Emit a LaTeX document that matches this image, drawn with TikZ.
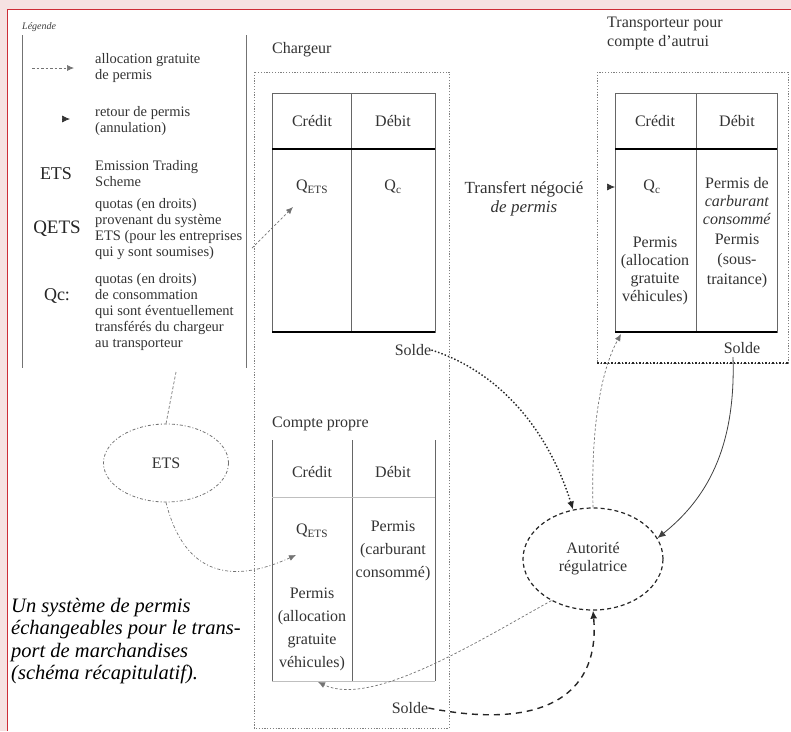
\documentclass[tikz,border=0pt]{standalone}
\usepackage{fontspec}
\setmainfont{Liberation Serif}
\usetikzlibrary{shapes.geometric,arrows.meta,positioning}

\definecolor{framepink}{RGB}{246,226,226}
\definecolor{framered}{RGB}{205,45,55}

\tikzset{
  txt/.style={font=\fontsize{16}{18}\selectfont, align=center, text=black!80, inner sep=0pt},
  wide/.style={font=\fontsize{16}{23}\selectfont},
  legtxt/.style={font=\fontsize{14.5}{16}\selectfont, align=left, anchor=west, text=black!80, inner sep=0pt},
  legkey/.style={font=\fontsize{18}{20}\selectfont, text=black!85, inner sep=0pt},
  account/.style={draw=black!60, line width=0.8pt},
  accbar/.style={draw=black, line width=1.6pt},
  zone/.style={draw=black!50, line width=0.8pt, dash pattern=on 1.2pt off 1.6pt},
  zonebar/.style={draw=black!85, line width=1.4pt, dash pattern=on 1.5pt off 2pt},
  alloc/.style={draw=black!55, line width=0.7pt, dash pattern=on 2.5pt off 2pt, -{Latex[length=7pt,width=6pt]}},
  cancel/.style={draw=black!80, line width=0.7pt, -{Latex[length=8pt,width=7pt]}},
  soldedot/.style={draw=black!85, line width=1.4pt, dash pattern=on 1.5pt off 2pt, -{Latex[length=8pt,width=7pt]}},
  soldedash/.style={draw=black!85, line width=1.4pt, dash pattern=on 6pt off 5pt, -{Latex[length=8pt,width=7pt]}},
  etslink/.style={alloc, dash pattern=on 3pt off 2pt on 1pt off 2pt},
}

\begin{document}
\begin{tikzpicture}[x=1pt,y=-1pt]
\useasboundingbox (0,0) rectangle (791,731);
\fill[framepink] (0,0) rectangle (791,731);
\fill[white] (7,9) rectangle (791,731);
\draw[framered, line width=1pt] (7,731) -- (7,9) -- (791,9);

% legende
\node[font=\fontsize{10}{12}\selectfont\itshape, anchor=west, text=black!75, inner sep=0pt] (legende) at (22,27) {Légende};
\draw[black!55, line width=1pt] (22,35) -- (22,368) (246,35) -- (246,368);
\coordinate (legA) at (32,68);
\coordinate (legB) at (74,68);
\draw[alloc] (legA) -- (legB);
\node[legtxt] (allocT) at (95,68) {allocation gratuite\\de permis};
\coordinate (legC) at (62,119);
\coordinate (legD) at (70,119);
\draw[cancel] (legC) -- (legD);
\node[legtxt] (retourT) at (95,121) {retour de permis\\(annulation)};
\node[legkey] (etsK) at (56,174) {ETS};
\node[legtxt] (etsT) at (95,174) {Emission Trading\\Scheme};
\node[legkey, font=\fontsize{19}{20}\selectfont] (qetsK) at (57,229) {QETS};
\node[legtxt] (qetsT) at (95,229) {quotas (en droits)\\provenant du système\\ETS (pour les entreprises\\qui y sont soumises)};
\node[legkey] (qcK) at (57,296) {Qc:};
\node[legtxt] (qcT) at (95,312) {quotas (en droits)\\de consommation\\qui sont éventuellement\\transférés du chargeur\\au transporteur};

\node[ellipse, draw=black!55, line width=0.8pt, dash pattern=on 3pt off 2pt on 1pt off 2pt,
      minimum width=125pt, minimum height=78pt, txt] (ets) at (166,463) {ETS};
\coordinate (etsup) at (176,372);
\draw[draw=black!55, line width=0.7pt, dash pattern=on 3pt off 2pt] (ets.north) -- (etsup);

% chargeur
\node[txt, anchor=west] (chargeur) at (272,50) {Chargeur};
\draw[zone] (254,72) rectangle (449,728);
\draw[account] (272,93) rectangle (435,332) (351,93) -- (351,332);
\draw[accbar] (272,149) -- (435,149) (272,332) -- (435,332);
\node[txt] (credit1) at (312,121) {Crédit};
\node[txt] (debit1) at (393,121) {Débit};
\node[txt] (qets1) at (312,187) {Q\textsubscript{ETS}};
\node[txt] (qc1) at (393,187) {Q\textsubscript{c}};
\node[txt] (solde1) at (413,350) {Solde};
\coordinate (qets1from) at (252,248);
\coordinate (qets1in) at (293,207);
\draw[alloc] (qets1from) -- (qets1in);

\node[txt, anchor=west] (cpropre) at (272,424) {Compte propre};
\draw[account] (272,440) -- (272,681) (352,440) -- (352,681) (435,440) -- (435,681);
\draw[black!25, line width=0.7pt] (272,497) -- (435,497) (272,681) -- (435,681);
\node[txt] (credit2) at (312,472) {Crédit};
\node[txt] (debit2) at (393,472) {Débit};
\node[txt] (qets2) at (312,531) {Q\textsubscript{ETS}};
\node[txt, wide] (permis2d) at (393,551) {Permis\\(carburant\\consommé)};
\node[txt, wide] (permis2c) at (312,629) {Permis\\(allocation\\gratuite\\véhicules)};
\node[txt] (solde2) at (410,708) {Solde};
\coordinate (qets2in) at (296,555);
\coordinate (cpin) at (318,682);

% transporteur
\node[txt, anchor=west, align=left, font=\fontsize{16}{19}\selectfont] (transp) at (607,33) {Transporteur pour\\compte d'autrui};
\draw[zone] (597,72) rectangle (788,363);
\draw[zonebar] (597,363) -- (788,363);
\draw[account] (615,93) rectangle (777,332) (696,93) -- (696,332);
\draw[accbar] (615,149) -- (777,149) (615,332) -- (777,332);
\node[txt] (credit3) at (655,121) {Crédit};
\node[txt] (debit3) at (737,121) {Débit};
\node[txt] (qc3) at (652,187) {Q\textsubscript{c}};
\node[txt] (permis3d) at (737,201) {Permis de\\\textit{carburant}\\\textit{consommé}};
\node[txt] (permis3c) at (655,271) {Permis\\(allocation\\gratuite\\véhicules)};
\node[txt, font=\fontsize{16}{20}\selectfont] (soustr) at (737,261) {Permis\\(sous-\\traitance)};
\node[txt] (solde3) at (742,348) {Solde};
\coordinate (qc3tail) at (607,187);
\coordinate (qc3in) at (615,187);
\draw[cancel] (qc3tail) -- (qc3in);
\coordinate (t3in) at (621,334);
\coordinate (t3out) at (733,357);

\node[txt, font=\fontsize{17}{19}\selectfont] (transfert) at (524,199) {Transfert négocié\\\textit{de permis}};

\node[ellipse, draw=black!85, line width=1.2pt, dash pattern=on 4pt off 3pt,
      minimum width=140pt, minimum height=102pt, txt] (aut) at (593,559) {Autorité\\régulatrice};

\draw[soldedot] (solde1.east) .. controls (500,372) and (548,430) .. (aut.112);
\draw[draw=black!75, line width=0.8pt, -{Latex[length=8pt,width=7pt]}] (t3out) .. controls (736,450) and (705,500) .. (aut.18);
\draw[alloc] (aut.north) .. controls (591,430) and (600,372) .. (t3in);
\draw[alloc] (aut.225) .. controls (480,640) and (372,708) .. (cpin);
\draw[soldedash] (solde2.east) .. controls (550,732) and (600,690) .. (aut.south);
\draw[etslink] (ets.south) .. controls (180,558) and (215,592) .. (qets2in);

\node[anchor=north west, align=left, font=\fontsize{20.5}{22.5}\selectfont\itshape, inner sep=0pt] (caption) at (11,598)
  {Un système de permis\\échangeables pour le trans-\\port de marchandises\\(schéma récapitulatif).};
\end{tikzpicture}
\end{document}
